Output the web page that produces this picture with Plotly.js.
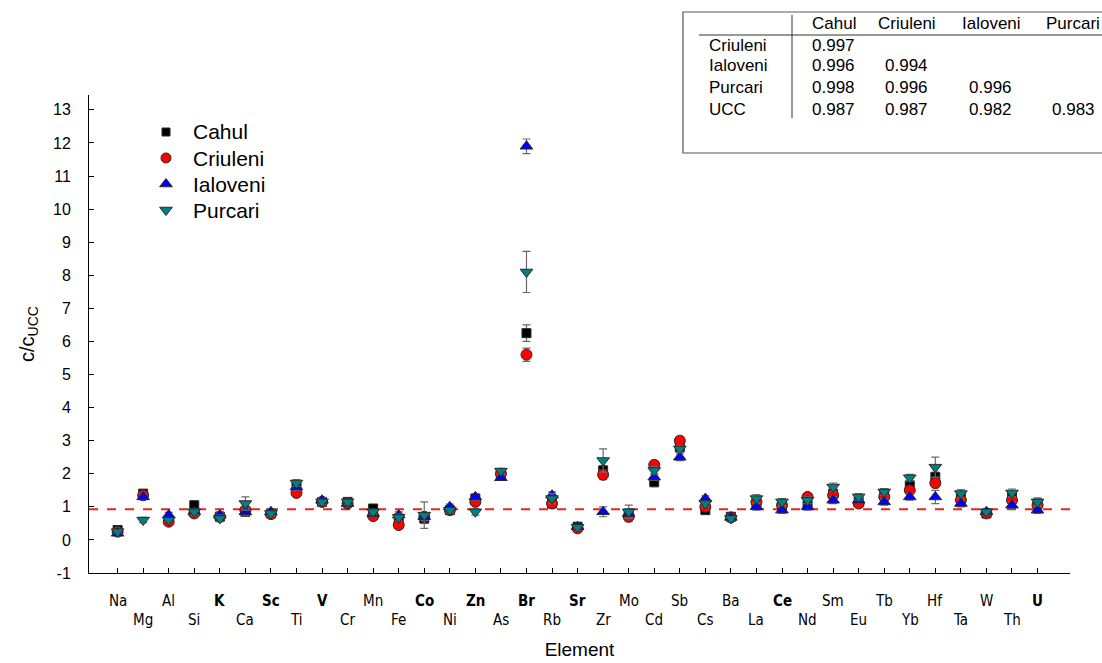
<!DOCTYPE html>
<html>
<head>
<meta charset="utf-8">
<script src="https://cdn.plot.ly/plotly-3.0.1.min.js"></script>
<style>html,body{margin:0;padding:0;background:#fff;}#chart{width:1102px;height:663px;}</style>
</head>
<body>
<div id="chart"></div>
<script>
// ---- data ----
const elements = ["Na","Mg","Al","Si","K","Ca","Sc","Ti","V","Cr","Mn","Fe","Co","Ni","Zn","As","Br","Rb","Sr","Zr","Mo","Cd","Sb","Cs","Ba","La","Ce","Nd","Sm","Eu","Tb","Yb","Hf","Ta","W","Th","U"];
const boldElements = ["K","Sc","V","Co","Zn","Br","Sr","Ce","U"];

const cahul    = [0.30,1.40,0.60,1.05,0.70,0.85,0.80,1.60,1.15,1.15,0.95,0.65,0.65,0.90,1.25,2.00,6.25,1.10,0.40,2.10,0.80,1.75,2.80,0.90,0.70,1.10,1.05,1.05,1.40,1.15,1.40,1.65,1.90,1.30,0.80,1.30,1.10];
const criuleni = [0.25,1.35,0.55,0.80,0.70,0.90,0.78,1.42,1.15,1.10,0.72,0.45,0.70,0.90,1.15,2.00,5.60,1.10,0.35,1.97,0.70,2.27,3.00,1.00,0.68,1.15,1.05,1.30,1.35,1.10,1.30,1.50,1.72,1.20,0.80,1.20,1.05];
const ialoveni = [0.20,1.30,0.75,0.85,0.75,0.85,0.85,1.60,1.20,1.10,0.80,0.75,0.70,1.00,1.30,1.88,11.90,1.35,0.40,0.85,0.80,1.90,2.50,1.25,0.68,1.00,0.90,1.00,1.20,1.20,1.15,1.30,1.30,1.10,0.85,1.05,0.90];
const purcari  = [0.25,0.60,0.60,0.85,0.65,1.10,0.80,1.72,1.15,1.15,0.85,0.68,0.75,0.90,0.85,2.08,8.10,1.25,0.38,2.40,0.85,2.10,2.75,1.10,0.65,1.25,1.15,1.20,1.60,1.30,1.45,1.88,2.20,1.40,0.85,1.42,1.15];

const cahulErr    = [0.05,0.08,0.05,0.08,0.10,0.10,0.08,0.10,0.08,0.08,0.08,0.10,0.15,0.08,0.08,0.08,0.25,0.08,0.05,0.15,0.10,0.15,0.10,0.08,0.05,0.10,0.10,0.10,0.10,0.08,0.10,0.10,0.15,0.10,0.05,0.10,0.10];
const criuleniErr = [0.05,0.08,0.05,0.08,0.10,0.10,0.08,0.08,0.08,0.08,0.08,0.10,0.10,0.08,0.08,0.08,0.20,0.08,0.05,0.15,0.15,0.12,0.10,0.08,0.05,0.10,0.10,0.10,0.10,0.08,0.10,0.10,0.15,0.10,0.05,0.10,0.10];
const ialoveniErr = [0.05,0.08,0.08,0.08,0.10,0.10,0.08,0.10,0.08,0.08,0.08,0.10,0.10,0.08,0.10,0.08,0.22,0.10,0.05,0.15,0.10,0.10,0.10,0.08,0.05,0.10,0.10,0.10,0.10,0.08,0.10,0.10,0.20,0.10,0.05,0.10,0.10];
const purcariErr  = [0.05,0.08,0.05,0.08,0.10,0.20,0.08,0.10,0.08,0.08,0.08,0.10,0.40,0.08,0.10,0.08,0.62,0.15,0.05,0.35,0.20,0.12,0.10,0.08,0.05,0.12,0.10,0.10,0.12,0.10,0.10,0.10,0.30,0.12,0.05,0.12,0.12];

const ucc = 0.93;

const yTicks = [-1,0,1,2,3,4,5,6,7,8,9,10,11,12,13];
const yTickText = ["-1","0","1","2","3","4","5","6","7","8","9","10","11","12","13"];

const tableCols = ["Cahul","Criuleni","Ialoveni","Purcari"];
const tableRows = ["Criuleni","Ialoveni","Purcari","UCC"];
const tableVals = [
  ["0.997","","",""],
  ["0.996","0.994","",""],
  ["0.998","0.996","0.996",""],
  ["0.987","0.987","0.982","0.983"]
];

// ---- chart ----
const idx = elements.map((_, i) => i);
const FONT = "Liberation Sans, Arial, sans-serif";
const NARROW = "Liberation Sans Narrow, Arial Narrow, DejaVu Sans Condensed, sans-serif";

function series(name, y, err, symbol, color) {
  return {
    type: "scatter", mode: "markers", name: name,
    x: idx, y: y,
    error_y: {type: "data", array: err, visible: true, color: "#6a6a6a", thickness: 1.2, width: 4},
    marker: {symbol: symbol, size: symbol === "square" ? 9 : 11, color: color, opacity: 1,
      line: {color: "#2a2a2a", width: 1}},
    showlegend: false, hoverinfo: "x+y"
  };
}

const traces = [
  series("Cahul", cahul, cahulErr, "square", "#000000"),
  series("Criuleni", criuleni, criuleniErr, "circle", "#ff0000"),
  series("Ialoveni", ialoveni, ialoveniErr, "triangle-up", "#0000ff"),
  series("Purcari", purcari, purcariErr, "triangle-down", "#008080")
];

// legend (drawn as marker trace + text in paper coordinates)
const legendNames = ["Cahul","Criuleni","Ialoveni","Purcari"];
const legendSymbols = ["square","circle","triangle-up","triangle-down"];
const legendColors = ["#000000","#ff0000","#0000ff","#008080"];

const L = 89, R = 1070, T = 95, B = 573;
const W = 1102, H = 663;
const px2x = p => (p - L) / (R - L);
const py2y = p => (B - p) / (B - T);

traces.push({
  type: "scatter", mode: "markers", xaxis: "x2", yaxis: "y2",
  x: legendNames.map(() => px2x(166)),
  y: legendNames.map((_, i) => py2y(132 + i * 26)),
  marker: {symbol: legendSymbols, size: [8,10,11,11], color: legendColors, opacity: 1,
    line: {color: "#2a2a2a", width: 1}},
  showlegend: false, hoverinfo: "skip", cliponaxis: false
});

const annotations = [];
legendNames.forEach((n, i) => {
  annotations.push({xref: "paper", yref: "paper", x: px2x(191), y: py2y(132 + i * 26),
    text: n, showarrow: false, xanchor: "left", yanchor: "middle",
    font: {family: FONT, size: 21, color: "#000"}});
});

// staggered element labels
elements.forEach((e, i) => {
  const bold = boldElements.includes(e);
  annotations.push({xref: "x", yref: "paper", x: i, y: py2y(i % 2 === 0 ? 601 : 620),
    text: bold ? "<b>" + e + "</b>" : e, showarrow: false, xanchor: "center", yanchor: "middle",
    font: {family: NARROW, size: 15, color: "#000"}});
});

// table
const colX = [810, 876, 960, 1044];
const rowY = [23, 45, 66, 88, 109];
tableCols.forEach((c, j) => {
  annotations.push({xref: "paper", yref: "paper", x: px2x(colX[j]), y: py2y(rowY[0]),
    text: c, showarrow: false, xanchor: "left", yanchor: "middle",
    font: {family: FONT, size: 17, color: "#000"}});
});
tableRows.forEach((r, i) => {
  annotations.push({xref: "paper", yref: "paper", x: px2x(707), y: py2y(rowY[i + 1]),
    text: r, showarrow: false, xanchor: "left", yanchor: "middle",
    font: {family: FONT, size: 17, color: "#000"}});
  tableVals[i].forEach((v, j) => {
    if (!v) return;
    annotations.push({xref: "paper", yref: "paper", x: px2x(colX[j] + (j === 0 ? 0 : (j === 3 ? 6 : 7))), y: py2y(rowY[i + 1]),
      text: v, showarrow: false, xanchor: "left", yanchor: "middle",
      font: {family: FONT, size: 17, color: "#000"}});
  });
});

const shapes = [
  {type: "line", xref: "paper", yref: "y", x0: 0, x1: 1, y0: ucc, y1: ucc,
    line: {color: "#ee2020", width: 2, dash: "dash"}, layer: "below"},
  // table box
  {type: "rect", xref: "paper", yref: "paper", x0: px2x(683), x1: px2x(1110), y0: py2y(153), y1: py2y(12),
    line: {color: "#555555", width: 1.2}, fillcolor: "rgba(0,0,0,0)"},
  {type: "line", xref: "paper", yref: "paper", x0: px2x(699), x1: px2x(1110), y0: py2y(35), y1: py2y(35),
    line: {color: "#333333", width: 1}},
  {type: "line", xref: "paper", yref: "paper", x0: px2x(792), x1: px2x(792), y0: py2y(15), y1: py2y(118),
    line: {color: "#333333", width: 1}}
];

const layout = {
  width: W, height: H,
  margin: {l: L, r: W - R, t: T, b: H - B, pad: 0},
  paper_bgcolor: "#fff", plot_bgcolor: "#fff",
  font: {family: FONT, color: "#000"},
  showlegend: false,
  xaxis: {
    range: [-1.12, 37.27], tickvals: idx, ticktext: elements.map(() => ""),
    ticks: "inside", ticklen: 5, tickcolor: "#000", showline: true, linecolor: "#000", linewidth: 1,
    showgrid: false, zeroline: false, fixedrange: true,
    title: {text: "Element", font: {family: FONT, size: 19}, standoff: 67}
  },
  yaxis: {
    range: [-1, 13.45], tickvals: yTicks, ticktext: yTickText,
    ticks: "inside", ticklen: 5, tickcolor: "#000", showline: true, linecolor: "#000", linewidth: 1,
    showgrid: false, zeroline: false, fixedrange: true,
    tickfont: {family: FONT, size: 16}, ticklabelstandoff: 14,
    title: {text: "c/c<sub>UCC</sub>", font: {family: FONT, size: 20}, standoff: 13}
  },
  xaxis2: {domain: [0, 1], range: [0, 1], visible: false, overlaying: "x", fixedrange: true},
  yaxis2: {domain: [0, 1], range: [0, 1], visible: false, overlaying: "y", fixedrange: true},
  annotations: annotations,
  shapes: shapes
};

Plotly.newPlot("chart", traces, layout, {displayModeBar: false, staticPlot: true});
</script>
</body>
</html>
